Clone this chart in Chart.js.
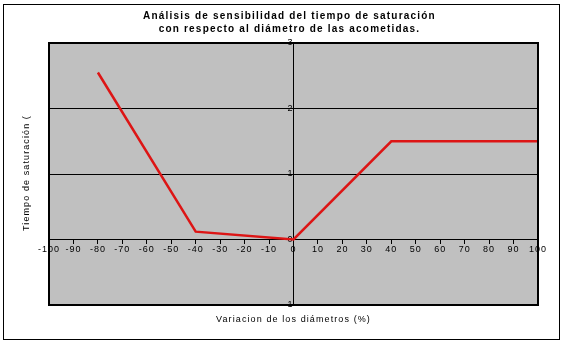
<!DOCTYPE html>
<html>
<head>
<meta charset="utf-8">
<script src="https://cdn.jsdelivr.net/npm/chart.js@4"></script>
<style>
  html, body { margin: 0; padding: 0; background: #fff; }
  #wrap { width: 563px; height: 344px; position: relative; }
</style>
</head>
<body>
<div id="wrap"><canvas id="chart" width="563" height="344"></canvas></div>
<script>
// datos
const variacion = [-80, -40, 0, 40, 100];
const tiempo = [2.55, 0.12, 0, 1.5, 1.5];
const xTicks = [-100, -90, -80, -70, -60, -50, -40, -30, -20, -10, 0, 10, 20, 30, 40, 50, 60, 70, 80, 90, 100];
const yTicks = [-1, 0, 1, 2, 3];
const titulo = ['Análisis de sensibilidad del tiempo de saturación', 'con respecto al diámetro de las acometidas.'];
const tituloX = 'Variacion de los diámetros (%)';
const tituloY = 'Tiempo de saturación (';

const fuente = '"Liberation Sans", Arial, sans-serif';

// fondo gris, marco y textos
const marco = {
    id: 'marco',
    beforeDraw(chart) {
        const ctx = chart.ctx;
        const a = chart.chartArea;
        ctx.letterSpacing = '1px'; // el original tiene letras mas separadas
        ctx.save();
        ctx.fillStyle = '#c0c0c0';
        ctx.fillRect(a.left, a.top, a.right - a.left, a.bottom - a.top);
        ctx.strokeStyle = '#000';
        ctx.lineWidth = 1;
        ctx.strokeRect(3.5, 4.5, 556, 335);
        ctx.restore();
    },
    afterDraw(chart) {
        const ctx = chart.ctx;
        const a = chart.chartArea;
        const cx = (a.left + a.right) / 2;
        ctx.save();
        ctx.strokeStyle = '#000';
        ctx.lineWidth = 2;
        ctx.strokeRect(a.left, a.top, a.right - a.left, a.bottom - a.top);
        ctx.fillStyle = '#000';
        ctx.textAlign = 'center';
        ctx.textBaseline = 'middle';
        ctx.font = 'bold 10px ' + fuente;
        ctx.letterSpacing = '1.2px';
        ctx.fillText(titulo[0], cx - 4, 16);
        ctx.fillText(titulo[1], cx - 4, 29);
        ctx.font = '9px ' + fuente;
        ctx.letterSpacing = '1.1px';
        ctx.fillText(tituloX, cx, 320);
        ctx.translate(27, 173);
        ctx.rotate(-Math.PI / 2);
        ctx.fillText(tituloY, 0, 0);
        ctx.restore();
    }
};

new Chart(document.getElementById('chart'), {
    type: 'line',
    data: {
        datasets: [{
            data: variacion.map((x, i) => ({ x: x, y: tiempo[i] })),
            borderColor: '#dd1515',
            borderWidth: 2.5,
            pointRadius: 0,
            fill: false,
            tension: 0
        }]
    },
    options: {
        responsive: false,
        animation: false,
        layout: { padding: { left: 49, top: 43, right: 25, bottom: 39 } },
        plugins: {
            legend: { display: false },
            title: { display: false },
            tooltip: { enabled: false }
        },
        scales: {
            x: {
                type: 'linear',
                min: -100,
                max: 100,
                position: { y: 0 },
                afterBuildTicks: s => { s.ticks = xTicks.map(v => ({ value: v })); },
                ticks: {
                    color: '#000',
                    font: { family: fuente, size: 9 },
                    padding: 1,
                    maxRotation: 0,
                    autoSkip: false
                },
                grid: { drawOnChartArea: false, color: '#000', tickLength: 4 },
                border: { color: '#000', width: 1 }
            },
            y: {
                type: 'linear',
                min: -1,
                max: 3,
                position: { x: 0 },
                afterBuildTicks: s => { s.ticks = yTicks.map(v => ({ value: v })); },
                ticks: {
                    color: '#000',
                    font: { family: fuente, size: 9 },
                    padding: 1
                },
                grid: { color: '#000', tickLength: 4 },
                border: { color: '#000', width: 1 }
            }
        }
    },
    plugins: [marco]
});
</script>
</body>
</html>
